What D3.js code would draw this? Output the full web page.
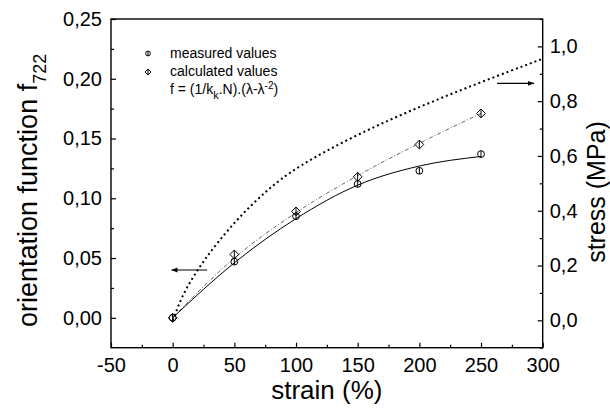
<!DOCTYPE html>
<html>
<head>
<meta charset="utf-8">
<script src="https://cdn.jsdelivr.net/npm/d3@7"></script>
<style>
  body { margin: 0; background: #fff; }
  svg { font-family: "Liberation Sans", Arial, sans-serif; }
  .tick text { font-size: 20px; fill: #000; }
</style>
</head>
<body>
<div id="chart"></div>
<script>
// strain (%) of the samples
const strain = [0, 50, 100, 150, 200, 250];
// orientation function f722
const measured = [0, 0.047, 0.085, 0.112, 0.123, 0.137];
const calculated = [0, 0.053, 0.089, 0.118, 0.145, 0.171];
// fitted curves read at the sample strains
const measuredFit = [0, 0.046, 0.083, 0.111, 0.127, 0.135];
const calculatedFit = [0, 0.050, 0.088, 0.119, 0.146, 0.171];
// stress-strain curve (right axis)
const stressStrain = [0, 5, 10, 25, 50, 75, 100, 150, 200, 250, 300];
const stress = [0, 0.057, 0.11, 0.22, 0.36, 0.47, 0.56, 0.68, 0.78, 0.87, 0.955];

const xTicks = [-50, 0, 50, 100, 150, 200, 250, 300];
const yLeftTicks = [0, 0.05, 0.10, 0.15, 0.20, 0.25];
const yRightTicks = [0, 0.2, 0.4, 0.6, 0.8, 1.0];

// arrows pointing to the axis each curve belongs to
const leftArrow = {x: [28, -1], y: 0.04};
const rightArrow = {x: [263, 293], y: 0.865};

let m = {left: 111, right: 67.3, top: 19, bottom: 62.3};
let W = 610, H = 410;
let width = W - m.left - m.right,
    height = H - m.top - m.bottom;

let svg = d3.select("#chart").append("svg")
    .attr("width", W)
    .attr("height", H);

let defs = svg.append("defs");
defs.append("marker")
    .attr("id", "head")
    .attr("viewBox", "0 0 10 10")
    .attr("refX", 10).attr("refY", 5)
    .attr("markerWidth", 7).attr("markerHeight", 6)
    .attr("markerUnits", "userSpaceOnUse")
    .attr("orient", "auto")
  .append("path")
    .attr("d", "M0,1 L10,5 L0,9 Z")
    .attr("fill", "#000");

let vis = svg.append("g")
    .attr("transform", "translate(" + m.left + "," + m.top + ")");

let x = d3.scaleLinear().domain([-50, 300]).range([0, width]);
let yL = d3.scaleLinear().domain([-0.025, 0.25]).range([height, 0]);
let yR = d3.scaleLinear().domain([-0.1, 1.1]).range([height, 0]);

let loc = d3.formatLocale({decimal: ",", thousands: ".", grouping: [3], currency: ["", ""], minus: "-"});
let fmt2 = loc.format(".2f"), fmt1 = loc.format(".1f"), fmt0 = loc.format("d");

function range(a, b, s) {
    let r = [];
    for (let v = a; v <= b + 1e-9; v += s) r.push(+v.toFixed(4));
    return r;
}

// minor ticks
vis.append("g")
    .attr("transform", "translate(0," + height + ")")
    .call(d3.axisBottom(x).tickValues(range(-25, 275, 50)).tickSize(-3).tickFormat(""));
vis.append("g")
    .call(d3.axisLeft(yL).tickValues(range(0.025, 0.225, 0.05)).tickSize(-3).tickFormat(""));
vis.append("g")
    .attr("transform", "translate(" + width + ",0)")
    .call(d3.axisRight(yR).tickValues(range(-0.1, 1.1, 0.2)).tickSize(-3).tickFormat(""));

// major ticks
let ax = vis.append("g")
    .attr("transform", "translate(0," + height + ")")
    .call(d3.axisBottom(x).tickValues(xTicks).tickSize(-5).tickPadding(8).tickFormat(fmt0));
ax.selectAll(".tick text").attr("dy", "0.8em");

let al = vis.append("g")
    .call(d3.axisLeft(yL).tickValues(yLeftTicks).tickSize(-5).tickPadding(9).tickFormat(fmt2));

let ar = vis.append("g")
    .attr("transform", "translate(" + width + ",0)")
    .call(d3.axisRight(yR).tickValues(yRightTicks).tickSize(-5).tickPadding(7).tickFormat(fmt1));

vis.selectAll(".domain").remove();
vis.selectAll(".tick line").attr("stroke", "#000").attr("stroke-width", 1.2);

// frame
vis.append("rect")
    .attr("width", width).attr("height", height)
    .attr("fill", "none").attr("stroke", "#000").attr("stroke-width", 1.4);

// curves
let lineL = d3.line().curve(d3.curveMonotoneX)
    .x((d) => x(d[0])).y((d) => yL(d[1]));
let lineR = d3.line().curve(d3.curveBasis)
    .x((d) => x(d[0])).y((d) => yR(d[1]));

vis.append("path")
    .datum(stressStrain.map((s, i) => [s, stress[i]]))
    .attr("d", lineR)
    .attr("fill", "none").attr("stroke", "#000")
    .attr("stroke-width", 2).attr("stroke-dasharray", "2,3");

vis.append("path")
    .datum(strain.map((s, i) => [s, calculatedFit[i]]))
    .attr("d", lineL)
    .attr("fill", "none").attr("stroke", "#666")
    .attr("stroke-width", 1).attr("stroke-dasharray", "4,2,1,2");

vis.append("path")
    .datum(strain.map((s, i) => [s, measuredFit[i]]))
    .attr("d", lineL)
    .attr("fill", "none").attr("stroke", "#000")
    .attr("stroke-width", 1);

// markers
function circleMark(g, cx, cy, r) {
    g.append("circle").attr("cx", cx).attr("cy", cy).attr("r", r)
        .attr("fill", "none").attr("stroke", "#000").attr("stroke-width", 1);
    g.append("line").attr("x1", cx).attr("x2", cx).attr("y1", cy - r).attr("y2", cy + r)
        .attr("stroke", "#000").attr("stroke-width", 1);
}
function diamondMark(g, cx, cy, r) {
    g.append("path")
        .attr("d", "M" + cx + "," + (cy - r) + "L" + (cx + r) + "," + cy + "L" + cx + "," + (cy + r) + "L" + (cx - r) + "," + cy + "Z")
        .attr("fill", "none").attr("stroke", "#000").attr("stroke-width", 1);
    g.append("line").attr("x1", cx).attr("x2", cx).attr("y1", cy - r).attr("y2", cy + r)
        .attr("stroke", "#000").attr("stroke-width", 1);
}

let marks = vis.append("g");
strain.forEach((s, i) => {
    circleMark(marks, x(s), yL(measured[i]), 3.4);
    diamondMark(marks, x(s), yL(calculated[i]), 4.4);
});

// arrows
vis.append("line")
    .attr("x1", x(leftArrow.x[0])).attr("x2", x(leftArrow.x[1]))
    .attr("y1", yL(leftArrow.y)).attr("y2", yL(leftArrow.y))
    .attr("stroke", "#000").attr("stroke-width", 1.2)
    .attr("marker-end", "url(#head)");
vis.append("line")
    .attr("x1", x(rightArrow.x[0])).attr("x2", x(rightArrow.x[1]))
    .attr("y1", yR(rightArrow.y)).attr("y2", yR(rightArrow.y))
    .attr("stroke", "#000").attr("stroke-width", 1.2)
    .attr("marker-end", "url(#head)");

// legend
let legend = svg.append("g").attr("transform", "translate(148,0)");
circleMark(legend, 0, 53.5, 2.4);
diamondMark(legend, 0, 72, 3);
legend.append("text").attr("x", 22).attr("y", 57.5).style("font-size", "14px").text("measured values");
legend.append("text").attr("x", 22).attr("y", 76).style("font-size", "14px").text("calculated values");
let ft = legend.append("text").attr("x", 22).attr("y", 94).style("font-size", "14px");
ft.append("tspan").text("f = (1/k");
ft.append("tspan").attr("dy", 5).style("font-size", "11px").text("k");
ft.append("tspan").attr("dy", -5).text(".N).(λ-λ");
ft.append("tspan").attr("dy", -5).style("font-size", "10px").text("-2");
ft.append("tspan").attr("dy", 5).text(")");

// axis titles
svg.append("text")
    .attr("x", m.left + width / 2).attr("y", 399)
    .style("text-anchor", "middle").style("font-size", "26px")
    .text("strain (%)");

let lt = svg.append("text")
    .attr("transform", "translate(37,327) rotate(-90)")
    .style("text-anchor", "start").style("font-size", "27px");
lt.append("tspan").text("orientation function f");
lt.append("tspan").attr("dy", 9).style("font-size", "18px").text("722");

svg.append("text")
    .attr("transform", "translate(605,192) rotate(-90)")
    .style("text-anchor", "middle").style("font-size", "25px")
    .text("stress (MPa)");
</script>
</body>
</html>
